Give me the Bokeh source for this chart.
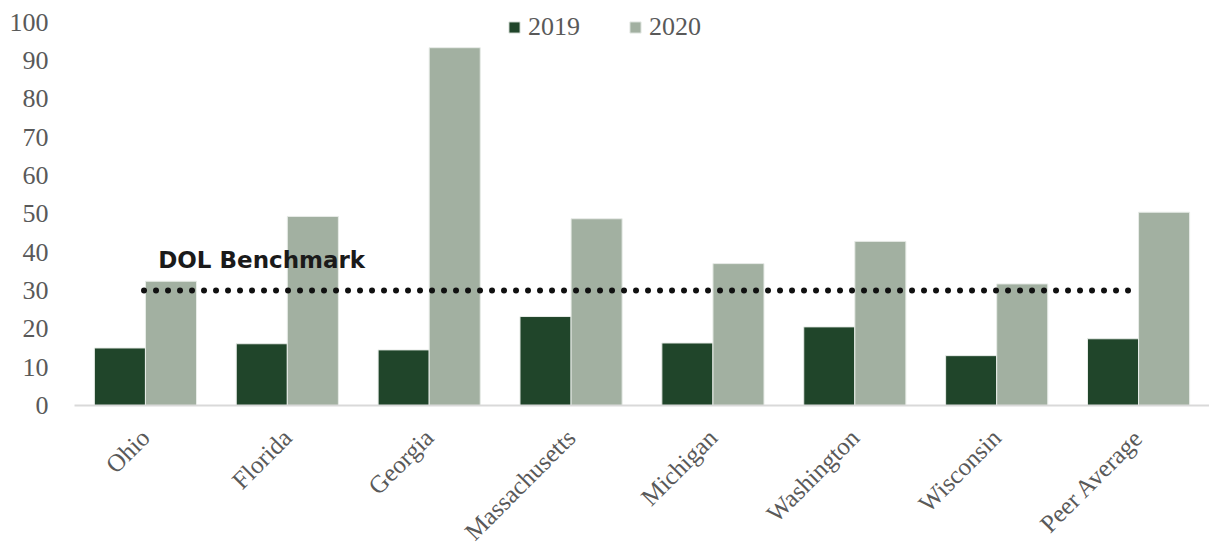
from bokeh.plotting import figure
from bokeh.models import (ColumnDataSource, Range1d, FixedTicker, Legend, LegendItem,
                          Label)
from bokeh.transform import dodge
from bokeh.embed import file_html
from bokeh.resources import INLINE
import math

# ---- data ----
categories = ["Ohio", "Florida", "Georgia", "Massachusetts", "Michigan",
              "Washington", "Wisconsin", "Peer Average"]
values_2019 = [15.0, 16.1, 14.5, 23.2, 16.3, 20.5, 13.0, 17.4]
values_2020 = [32.4, 49.3, 93.3, 48.7, 37.0, 42.8, 31.7, 50.4]
benchmark_value = 30
benchmark_label = "DOL Benchmark"
y_ticks = list(range(0, 101, 10))

# ---- styles ----
C2019 = "#20452A"
C2020 = "#A2B0A1"
TXT = "#595959"
SERIF = "Liberation Serif"

idx = list(range(len(categories)))
src = ColumnDataSource(dict(x=idx, cat=categories, v19=values_2019, v20=values_2020))

p = figure(frame_width=1135, frame_height=395,
           x_range=Range1d(-0.5, 7.5), y_range=Range1d(0, 103),
           output_backend="svg", toolbar_location=None,
           min_border_left=74, min_border_top=10, min_border_right=0,
           min_border_bottom=136)
p.outline_line_color = None
p.xgrid.grid_line_color = None
p.ygrid.grid_line_color = None
p.background_fill_color = "white"
p.border_fill_color = "white"

bw = 0.36
r19 = p.vbar(x=dodge("x", -bw / 2), top="v19", width=bw, source=src,
             fill_color=C2019, line_color="#e8ece8", line_width=1)
r20 = p.vbar(x=dodge("x", bw / 2), top="v20", width=bw, source=src,
             fill_color=C2020, line_color="#e8ece8", line_width=1)

# benchmark dotted line
p.line(x=[-0.01, 6.93], y=[benchmark_value, benchmark_value], line_color="#111111",
       line_width=6, line_dash="0 12", line_cap="round")
p.add_layout(Label(x=0.09, y=benchmark_value + 8.0, text=benchmark_label,
                   text_font="DejaVu Sans", text_font_style="bold",
                   text_font_size="23px", text_color="#1a1a1a",
                   text_baseline="alphabetic"))

# axes
p.yaxis.ticker = FixedTicker(ticks=y_ticks)
p.yaxis.axis_line_color = None
p.yaxis.major_tick_line_color = None
p.yaxis.minor_tick_line_color = None
p.yaxis.major_label_text_font = SERIF
p.yaxis.major_label_text_font_size = "26px"
p.yaxis.major_label_text_color = TXT
p.yaxis.major_label_standoff = 20

p.xaxis.ticker = FixedTicker(ticks=idx)
p.xaxis.major_label_overrides = {i: c for i, c in zip(idx, categories)}
p.xaxis.major_label_orientation = math.pi / 4
p.xaxis.axis_line_color = "#d9d9d9"
p.xaxis.axis_line_width = 2
p.xaxis.major_tick_line_color = None
p.xaxis.minor_tick_line_color = None
p.xaxis.major_label_text_font = SERIF
p.xaxis.major_label_text_font_size = "25px"
p.xaxis.major_label_text_color = TXT
p.xaxis.major_label_standoff = 22

legend = Legend(items=[LegendItem(label="2019", renderers=[r19]),
                       LegendItem(label="2020", renderers=[r20])],
                orientation="horizontal", location=(433, 363),
                label_text_font=SERIF, label_text_font_size="26px",
                label_text_color=TXT, glyph_width=14, glyph_height=14,
                label_standoff=7, spacing=48, padding=0, margin=0,
                border_line_color=None, background_fill_alpha=0)
p.add_layout(legend)

open("out.html", "w").write(file_html(p, INLINE))
